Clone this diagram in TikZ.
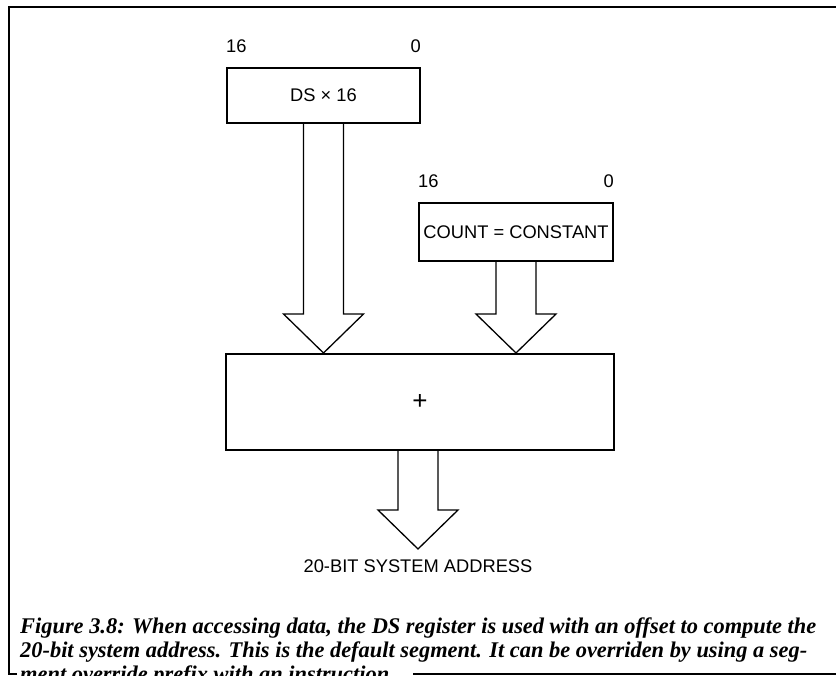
\documentclass[tikz,border=0pt]{standalone}
\usepackage{fontspec}
\setmainfont{Liberation Serif}
\newfontfamily\diagfont{Liberation Sans}
\usetikzlibrary{calc}

% hollow block arrow from #1 down to the tip #2
\newcommand{\blockarrow}[2]{%
	\draw[line width=1.3pt,line join=miter] let \p1=(#1), \p2=(#2) in
		(\x1-20pt,\y1) -- (\x1-20pt,\y2+39pt) -- (\x1-40pt,\y2+39pt) -- (\x1,\y2)
		-- (\x1+40pt,\y2+39pt) -- (\x1+20pt,\y2+39pt) -- (\x1+20pt,\y1);}

\begin{document}
\begin{tikzpicture}[x=1pt,y=-1pt,
		box/.style={draw,line width=2pt,inner sep=0pt,font=\diagfont\fontsize{18.3}{22}\selectfont},
		bit/.style={inner sep=0pt,font=\diagfont\fontsize{18.3}{22}\selectfont},
		caption/.style={inner sep=0pt,anchor=base west,font=\bfseries\itshape\fontsize{22.4}{24}\selectfont}]
	\useasboundingbox (0,0) rectangle (836,676);
	% frame
	\draw[line width=2pt] (17,674) -| (9,7) -- (836,7);
	\draw[line width=2pt] (413,674) -- (836,674);
	% registers
	\node[box,minimum width=193pt,minimum height=55pt] (ds) at (323.5,95.5) {DS × 16};
	\node[bit,anchor=south west] (dshi) at ([yshift=14pt]ds.north west) {16};
	\node[bit,anchor=south east] (dslo) at ([yshift=14pt]ds.north east) {0};
	\node[box,minimum width=194pt,minimum height=58pt] (count) at (516,232) {COUNT = CONSTANT};
	\node[bit,anchor=south west] (counthi) at ([yshift=14pt]count.north west) {16};
	\node[bit,anchor=south east] (countlo) at ([yshift=14pt]count.north east) {0};
	% adder
	\node[box,minimum width=388pt,minimum height=96pt,font=\diagfont\fontsize{26}{28}\selectfont] (plus) at (420,402) {+};
	\node[bit,anchor=north] (addr) at (418,560) {20-BIT SYSTEM ADDRESS};
	\blockarrow{ds.south}{ds.south |- plus.north}
	\blockarrow{count.south}{count.south |- plus.north}
	\blockarrow{plus.south -| addr.north}{$(addr.north)+(0,-11)$}
	% caption
	\node[caption] (cap1) at (20,633) {Figure 3.8: When accessing data, the DS register is used with an offset to compute the};
	\node[caption] (cap2) at (20,657) {20-bit system address. This is the default segment. It can be overriden by using a seg-};
	\node[caption] (cap3) at (20,681) {ment override prefix with an instruction.};
\end{tikzpicture}
\end{document}
